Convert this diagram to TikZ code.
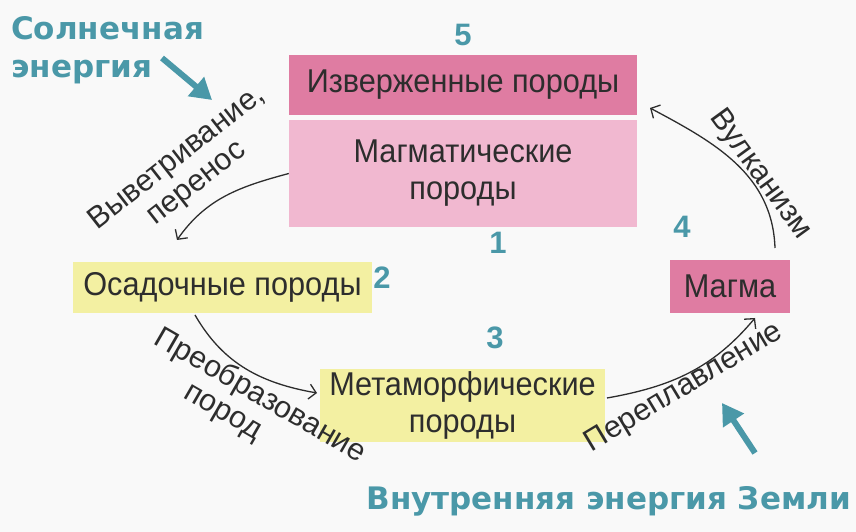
\documentclass[tikz,border=0pt]{standalone}
\usepackage{fontspec}
\setsansfont{Liberation Sans}[FakeStretch=0.93]
\newfontfamily\labelfont{Liberation Sans}
\newfontfamily\headfont{DejaVu Sans}[BoldFont={DejaVu Sans Bold}]
\usetikzlibrary{arrows.meta,positioning}
\definecolor{rockpink}{RGB}{223,124,162}
\definecolor{lightpink}{RGB}{241,184,208}
\definecolor{rockyellow}{RGB}{243,240,162}
\definecolor{energyteal}{RGB}{74,152,168}
\definecolor{inkgray}{RGB}{45,45,45}
\definecolor{paper}{RGB}{249,249,249}

\begin{document}
\begin{tikzpicture}[
  x=1pt,y=1pt,
  font=\sffamily,
  rock/.style={rectangle,inner sep=0pt,text=inkgray,align=center,font=\sffamily\fontsize{33}{37}\selectfont},
  num/.style={text=energyteal,font=\labelfont\bfseries\fontsize{31}{31}\selectfont,inner sep=0pt},
  proc/.style={text=inkgray,align=center,inner sep=0pt,font=\labelfont\fontsize{30.5}{32}\selectfont},
  energy/.style={text=energyteal,align=left,inner sep=0pt,font=\headfont\bfseries\fontsize{31}{38}\selectfont},
  arr/.style={-{Straight Barb[length=7pt,width=15pt]},line width=1.3pt,draw=inkgray},
  ray/.style={-{Triangle[length=21pt,width=24pt]},line width=6pt,draw=energyteal}
]
\fill[paper] (0,0) rectangle (856,532);
\useasboundingbox (0,0) rectangle (856,532);

% rock boxes
\node[rock,fill=rockpink,minimum width=348pt,minimum height=60pt] (ign) at (463,447) {Изверженные породы};
\node[rock,fill=lightpink,minimum width=348pt,minimum height=107pt] (magm) at (463,358.5) {Магматические\\породы};
\node[rock,fill=rockyellow,minimum width=299pt,minimum height=51pt] (osad) at (222.5,244.5) {Осадочные породы};
\node[rock,fill=rockyellow,minimum width=285pt,minimum height=73pt] (meta) at (462.5,126.5) {Метаморфические\\породы};
\node[rock,fill=rockpink,minimum width=120pt,minimum height=53pt] (magma) at (730,245.5) {Магма};

% step numbers
\node[num] (n5) at (463,497) {5};
\node[num] (n1) at (498,289) {1};
\node[num] (n2) at (382,254) {2};
\node[num] (n3) at (495,194) {3};
\node[num] (n4) at (682,305) {4};

% cycle
\coordinate (wEnd) at (177,292);
\coordinate (vStart) at (775,284);
\coordinate (vEnd) at (650,424);
\coordinate (tStart) at (195,217);
\coordinate (tEnd) at (317,139);
\coordinate (rStart) at (607,134);
\coordinate (rEnd) at (755,214);
\draw[arr] (magm.west) to[out=195,in=55] (wEnd);
\draw[arr] (vStart) to[out=92,in=-28] (vEnd);
\draw[arr] (tStart) to[out=-60,in=170] (tEnd);
\draw[arr] (rStart) to[out=10,in=230] (rEnd);

\node[proc,rotate=38] (weath) at (187,361) {Выветривание,\\перенос};
\node[proc,rotate=-54] (vulk) at (760,357) {Вулканизм};
\node[proc,rotate=-30] (preob) at (252,122) {Преобразование\\\hspace*{-48pt}пород};
\node[proc,rotate=31] (perepl) at (684,144) {Переплавление};

% energy sources
\node[energy,anchor=north west] (sun) at (11,516) {Солнечная\\энергия};
\node[energy,anchor=east] (inner) at (851,31) {Внутренняя энергия Земли};
\coordinate (sunTip) at (212,432);
\coordinate (innerTip) at (722,129);
\draw[ray] (162,474) -- (sunTip);
\draw[ray] (755,79) -- (innerTip);
\end{tikzpicture}
\end{document}
